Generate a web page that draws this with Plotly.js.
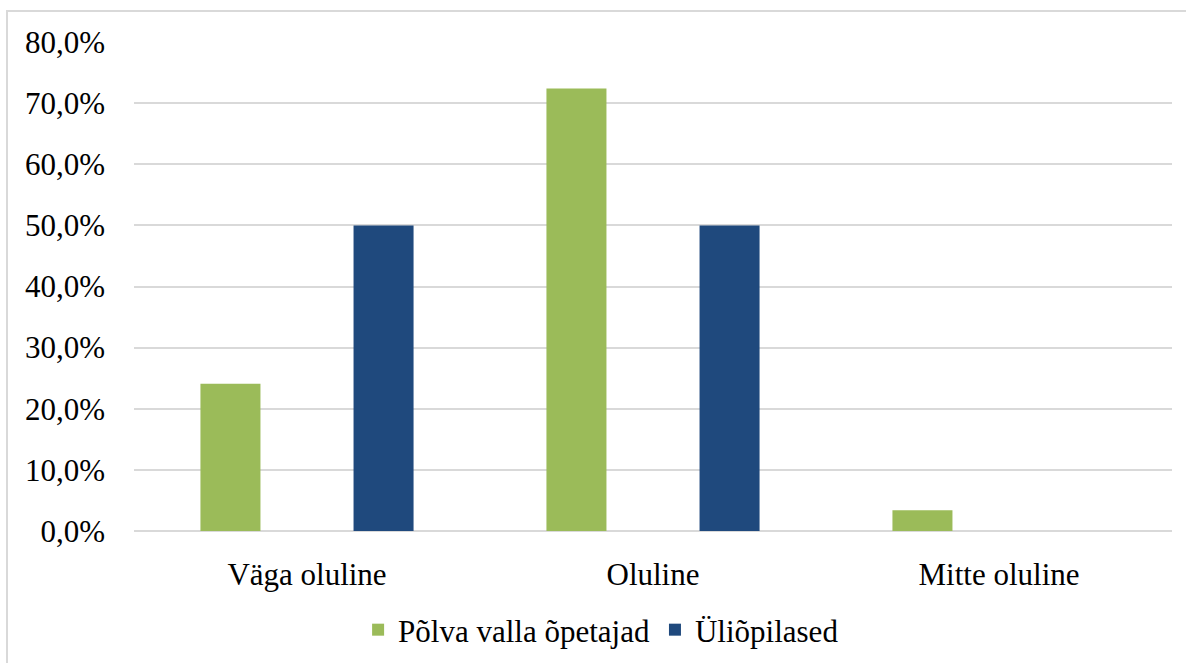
<!DOCTYPE html>
<html>
<head>
<meta charset="utf-8">
<script src="https://cdn.plot.ly/plotly-3.0.1.min.js"></script>
<style>
html,body{margin:0;padding:0;background:#fff;}
#frame{position:absolute;left:6px;top:10px;width:1200px;height:700px;border:2px solid #d9d9d9;box-sizing:border-box;pointer-events:none;z-index:5;}
#chart{position:absolute;left:0;top:0;width:1186px;height:663px;}
</style>
</head>
<body>
<div id="chart"></div>
<div id="frame"></div>
<script>
const categories = ["Väga oluline", "Oluline", "Mitte oluline"];
const seriesNames = ["Põlva valla õpetajad", "Üliõpilased"];
const teachers = [24.1, 72.4, 3.4];
const students = [50.0, 50.0, 0.0];
const yTicks = [0, 10, 20, 30, 40, 50, 60, 70, 80];
const yTickLabels = ["0,0%", "10,0%", "20,0%", "30,0%", "40,0%", "50,0%", "60,0%", "70,0%", "80,0%"];

const font = {family: "Liberation Serif, Times New Roman, serif", size: 31, color: "#000"};

const data = [
  {type: "bar", name: seriesNames[0], x: categories, y: teachers, marker: {color: "#9BBB59"}, hoverinfo: "none"},
  {type: "bar", name: seriesNames[1], x: categories, y: students, marker: {color: "#1F497D"}, hoverinfo: "none"}
];

const layout = {
  width: 1186, height: 663,
  margin: {l: 134, r: 14, t: 42, b: 132, autoexpand: false},
  paper_bgcolor: "#fff", plot_bgcolor: "#fff",
  font: font,
  barmode: "group",
  bargap: 0.115,
  bargroupgap: 0.608,
  showlegend: true,
  legend: {orientation: "h", x: 0.45, xanchor: "center", y: -0.2025, yanchor: "middle", font: font, itemwidth: 30},
  xaxis: {tickfont: font, showline: false, ticks: "", ticklabelstandoff: 22, fixedrange: true, automargin: false},
  yaxis: {range: [0, 80], tickvals: yTicks, ticktext: yTickLabels, tickfont: font, automargin: false,
          showgrid: true, gridcolor: "#d9d9d9", gridwidth: 2, zeroline: true, zerolinecolor: "#d9d9d9", zerolinewidth: 2,
          showline: false, ticks: "", ticklabelstandoff: 28, fixedrange: true}
};

Plotly.newPlot("chart", data, layout, {displayModeBar: false, staticPlot: true});
</script>
</body>
</html>
